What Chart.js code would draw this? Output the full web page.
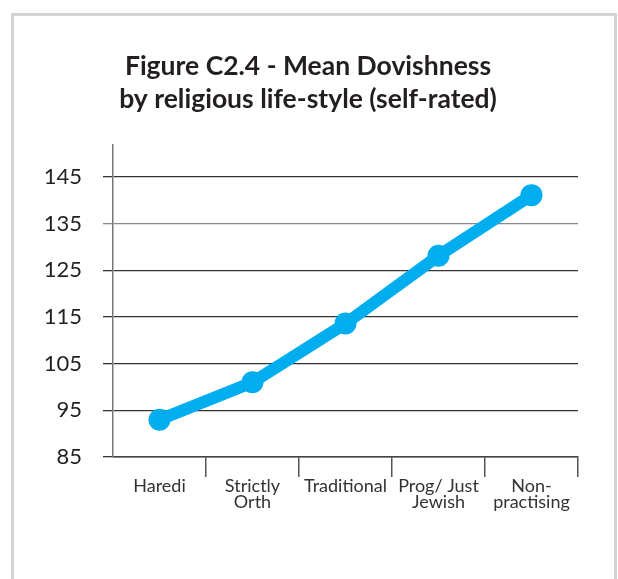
<!DOCTYPE html>
<html>
<head>
<meta charset="utf-8">
<script src="https://cdn.jsdelivr.net/npm/chart.js@4"></script>
<style>
  html, body { margin: 0; padding: 0; background: #fff; }
  #wrap { position: relative; width: 618px; height: 579px; overflow: hidden; }
  #frame {
    position: absolute; left: 11px; top: 13px; width: 600px; height: 600px;
    border: 3px solid #d3d3d3; border-bottom: none;
  }
  canvas { position: absolute; left: 0; top: 0; }
</style>
</head>
<body>
<div id="wrap">
  <div id="frame"></div>
  <canvas id="chart" width="618" height="579"></canvas>
</div>
<script>
// categories along the x axis (multi-line labels as arrays)
const categories = [
  'Haredi',
  ['Strictly', 'Orth'],
  'Traditional',
  ['Prog/ Just', 'Jewish'],
  ['Non-', 'practising']
];
// mean dovishness per religious life-style
const dovishness = [93.0, 101.0, 113.6, 128.1, 141.1];
// y tick values shown on the axis
const yTicks = [85, 95, 105, 115, 125, 135, 145];

const blue = '#00aeef';
const ink = '#231f20';

const ctx = document.getElementById('chart').getContext('2d');
new Chart(ctx, {
  type: 'line',
  data: {
    labels: categories,
    datasets: [{
      data: dovishness,
      borderColor: blue,
      backgroundColor: blue,
      borderWidth: 12,
      pointRadius: 11,
      pointHoverRadius: 11,
      pointBackgroundColor: blue,
      pointBorderWidth: 0,
      tension: 0
    }]
  },
  options: {
    responsive: false,
    animation: false,
    layout: { padding: { left: 38, right: 40, top: 0, bottom: 0 } },
    plugins: {
      legend: { display: false },
      tooltip: { enabled: false },
      title: {
        display: true,
        text: ['Figure C2.4 - Mean Dovishness', 'by religious life-style (self-rated)'],
        color: ink,
        font: { family: 'Lato', size: 26.5, weight: 'bold', lineHeight: 1.25 },
        padding: { top: 50, bottom: 28 }
      }
    },
    scales: {
      x: {
        offset: true,
        afterFit: s => { s.height = 122; },
        border: { display: true, color: '#444', width: 1.5 },
        grid: {
          offset: true,
          drawOnChartArea: false,
          drawTicks: true,
          tickLength: 20,
          color: c => c.index === 0 ? 'rgba(0,0,0,0)' : '#555',
          lineWidth: 1.5
        },
        ticks: {
          color: '#333',
          padding: 2,
          maxRotation: 0,
          autoSkip: false,
          font: { family: 'Lato', size: 18, lineHeight: 0.85 }
        }
      },
      y: {
        min: 85,
        max: 152,
        afterFit: s => { s.width = 75; },
        afterBuildTicks: s => { s.ticks = yTicks.map(v => ({ value: v })); },
        border: { display: true, color: '#777', width: 1.5 },
        grid: {
          drawTicks: true,
          tickLength: 10,
          color: c => c.tick && c.tick.value === 135 ? '#8a8a8a' : '#333',
          lineWidth: 1.3
        },
        ticks: {
          color: ink,
          padding: 21,
          font: { family: 'Lato', size: 22 }
        }
      }
    }
  }
});
</script>
</body>
</html>
